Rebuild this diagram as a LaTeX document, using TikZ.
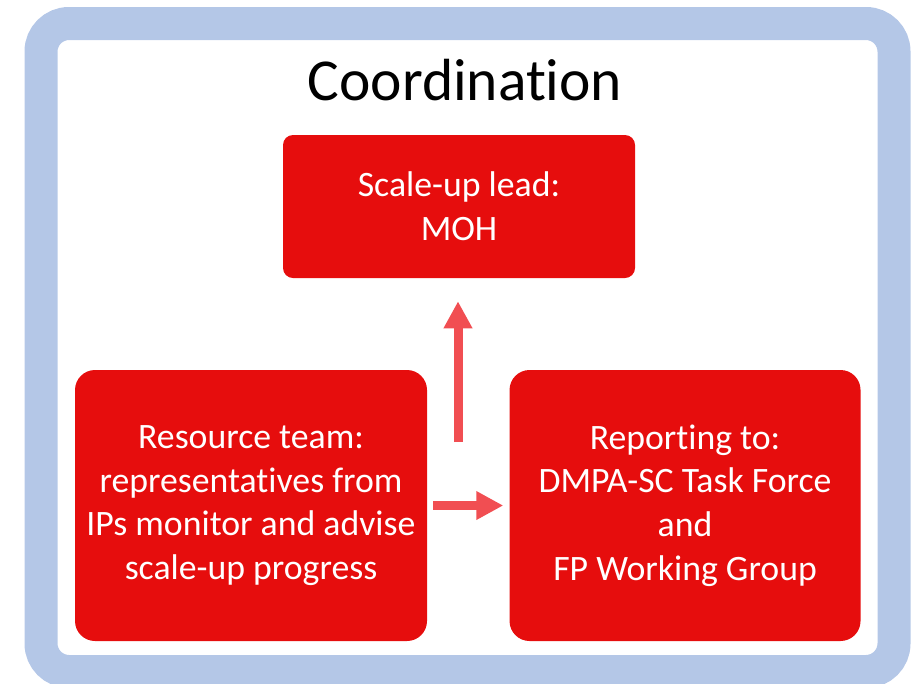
\documentclass[tikz,border=0pt]{standalone}
\usepackage{fontspec}
\setmainfont{Carlito}[Ligatures=NoCommon]
\usepackage{tikz}
\usetikzlibrary{arrows.meta}
\usetikzlibrary{positioning}
\definecolor{framecol}{HTML}{B4C7E7}
\definecolor{boxred}{HTML}{E60D0D}
\definecolor{arrowred}{HTML}{F14E52}
\tikzset{
  redbox/.style={fill=boxred, text=white, align=center, inner sep=0pt,
    font=\fontsize{26.8pt}{32.8pt}\selectfont},
  blockarrow/.style={arrowred, line width=6.75pt,
    -{Triangle[width=20.25pt, length=20.25pt]}}
}

\begin{document}
\begin{tikzpicture}[x=0.75pt, y=-0.75pt]
    \useasboundingbox (0,0) rectangle (920,683);
    \draw[framecol, line width=24.75pt, rounded corners=21pt]
      (41,23.5) rectangle (894,671.5);
    \node (title) at (465,80) {\fontsize{44.6pt}{50pt}\selectfont Coordination};
    \node[redbox, rounded corners=7.5pt, minimum width=264pt,
      minimum height=107.25pt] (lead) at (459,206.5)
      {Scale-up lead:\\MOH};
    \node[redbox, rounded corners=15pt, minimum width=264pt,
      minimum height=203.25pt] (resource) at (251,505.5)
      {Resource team:\\representatives from\\IPs monitor and advise\\scale-up progress};
    \node[redbox, rounded corners=15pt, minimum width=263.25pt,
      minimum height=203.25pt, right=61.5pt of resource] (reporting)
      {Reporting to:\\DMPA-SC Task Force\\and\\FP Working Group};
    \coordinate (upfoot) at (458,442);
    \draw[blockarrow] (upfoot) -- (upfoot |- lead.south)
      [shorten >=17.25pt];
    \draw[blockarrow, shorten <=4.5pt, shorten >=4.5pt] (resource) -- (reporting);
  \end{tikzpicture}
\end{document}
